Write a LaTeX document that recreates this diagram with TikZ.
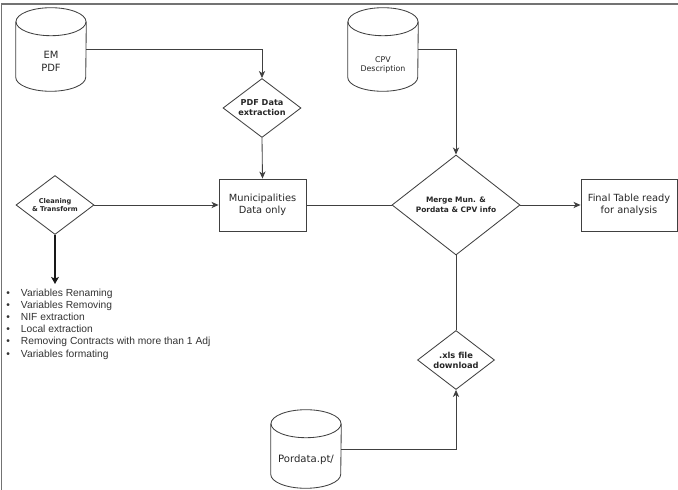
\documentclass[tikz,border=0pt]{standalone}
\usepackage{fontspec}
\setmainfont{DejaVu Sans}
\newfontfamily\listfont{Liberation Sans}
\usetikzlibrary{shapes.geometric,arrows.meta,calc,positioning}

\tikzset{
  wire/.style={draw=black!75, line width=0.6pt},
  flow/.style={wire, -{Stealth[length=5pt,width=4.4pt,inset=1.4pt]}},
  bigflow/.style={draw=black!90, line width=1.4pt, -{Stealth[length=5pt,width=5.5pt,inset=1.2pt]}},
  proc/.style={wire, rectangle, minimum height=1.3cm, inner sep=1pt, align=center,
    font=\fontsize{7}{8.7}\selectfont, text=black!85},
  decide/.style={wire, diamond, aspect=1.3, inner sep=0pt, minimum width=1.95cm,
    minimum height=1.475cm, align=center, text=black!85},
  drum/.style={minimum width=1.75cm, inner sep=0pt},
  frame/.style={draw=black!55, line width=1pt}
}

% cylinder outline around a named node
\newcommand{\drumdraw}[1]{%
  \draw[wire] ([yshift=-0.35cm]#1.north west) -- ([yshift=0.35cm]#1.south west)
    arc[start angle=180, end angle=360, x radius=0.875cm, y radius=0.35cm]
    -- ([yshift=-0.35cm]#1.north east);
  \draw[wire] ([yshift=-0.35cm]#1.north) ellipse[x radius=0.875cm, y radius=0.35cm];
}

\begin{document}
\begin{tikzpicture}[x=0.025cm, y=-0.025cm]
  \useasboundingbox (0,0) rectangle (678,490);
  \draw[frame] (1.5,490) -- (1.5,4) -- (678,4);

  % sources
  \node[drum, minimum height=2.075cm,
    label={[text=black!85, align=center, yshift=-0.3cm,
      font=\fontsize{7.1}{9.2}\selectfont]center:EM\\PDF}] (em) at (51,49.5) {};
  \node[drum, minimum height=2.075cm,
    label={[text=black!85, align=center, yshift=-0.39cm,
      font=\fontsize{5.6}{6.8}\selectfont]center:CPV\\Description}] (cpv) at (383,49.5) {};
  \node[drum, minimum height=1.95cm,
    label={[text=black!85, yshift=-0.27cm,
      font=\fontsize{7.2}{8.6}\selectfont]center:Pordata.pt/}] (pord) at (306,449) {};
  \drumdraw{em}
  \drumdraw{cpv}
  \drumdraw{pord}

  % steps
  \node[decide, font=\bfseries\fontsize{5.8}{7.1}\selectfont] (pdfx) at (262,108) {PDF Data\\extraction};
  \node[decide, font=\bfseries\fontsize{4.7}{6}\selectfont] (clean) at (55,205) {Cleaning\\\& Transform};
  \node[proc, minimum width=2.175cm] (mun) at (262.5,205) {Municipalities\\Data only};
  \node[decide, minimum width=3.2cm, minimum height=2.5cm,
    font=\bfseries\fontsize{5.3}{7.5}\selectfont] (merge) at (456,205) {Merge Mun. \&\\Pordata \& CPV info};
  \node[proc, minimum width=2.4cm] (final) at (629,205) {Final Table ready\\for analysis};
  \node[decide, minimum width=1.925cm, font=\bfseries\fontsize{5.9}{7.1}\selectfont] (xls) at (456,360) {.xls file\\download};

  \coordinate (listtop) at (55,284);
  \node[anchor=north west, inner sep=0pt, align=left, text=black!80,
    font=\listfont\fontsize{7.3}{8.65}\selectfont] (tasks) at (6.2,288.5) {%
    \makebox[10.3pt][l]{\textbullet}Variables Renaming\\
    \makebox[10.3pt][l]{\textbullet}Variables Removing\\
    \makebox[10.3pt][l]{\textbullet}NIF extraction\\
    \makebox[10.3pt][l]{\textbullet}Local extraction\\
    \makebox[10.3pt][l]{\textbullet}Removing Contracts with more than 1 Adj\\
    \makebox[10.3pt][l]{\textbullet}Variables formating};

  % connectors
  \draw[flow] (em.east) -| (pdfx.north);
  \draw[flow] (pdfx.south) -- (mun.north);
  \draw[flow] (clean.east) -- (mun.west);
  \draw[bigflow] (clean.south) -- (listtop);
  \draw[wire] (mun.east) -- (merge.west);
  \draw[flow] (cpv.east) -| (merge.north);
  \draw[flow] (merge.east) -- (final.west);
  \draw[wire] (merge.south) -- (xls.north);
  \draw[flow] (pord.east) -| (xls.south);
\end{tikzpicture}
\end{document}
